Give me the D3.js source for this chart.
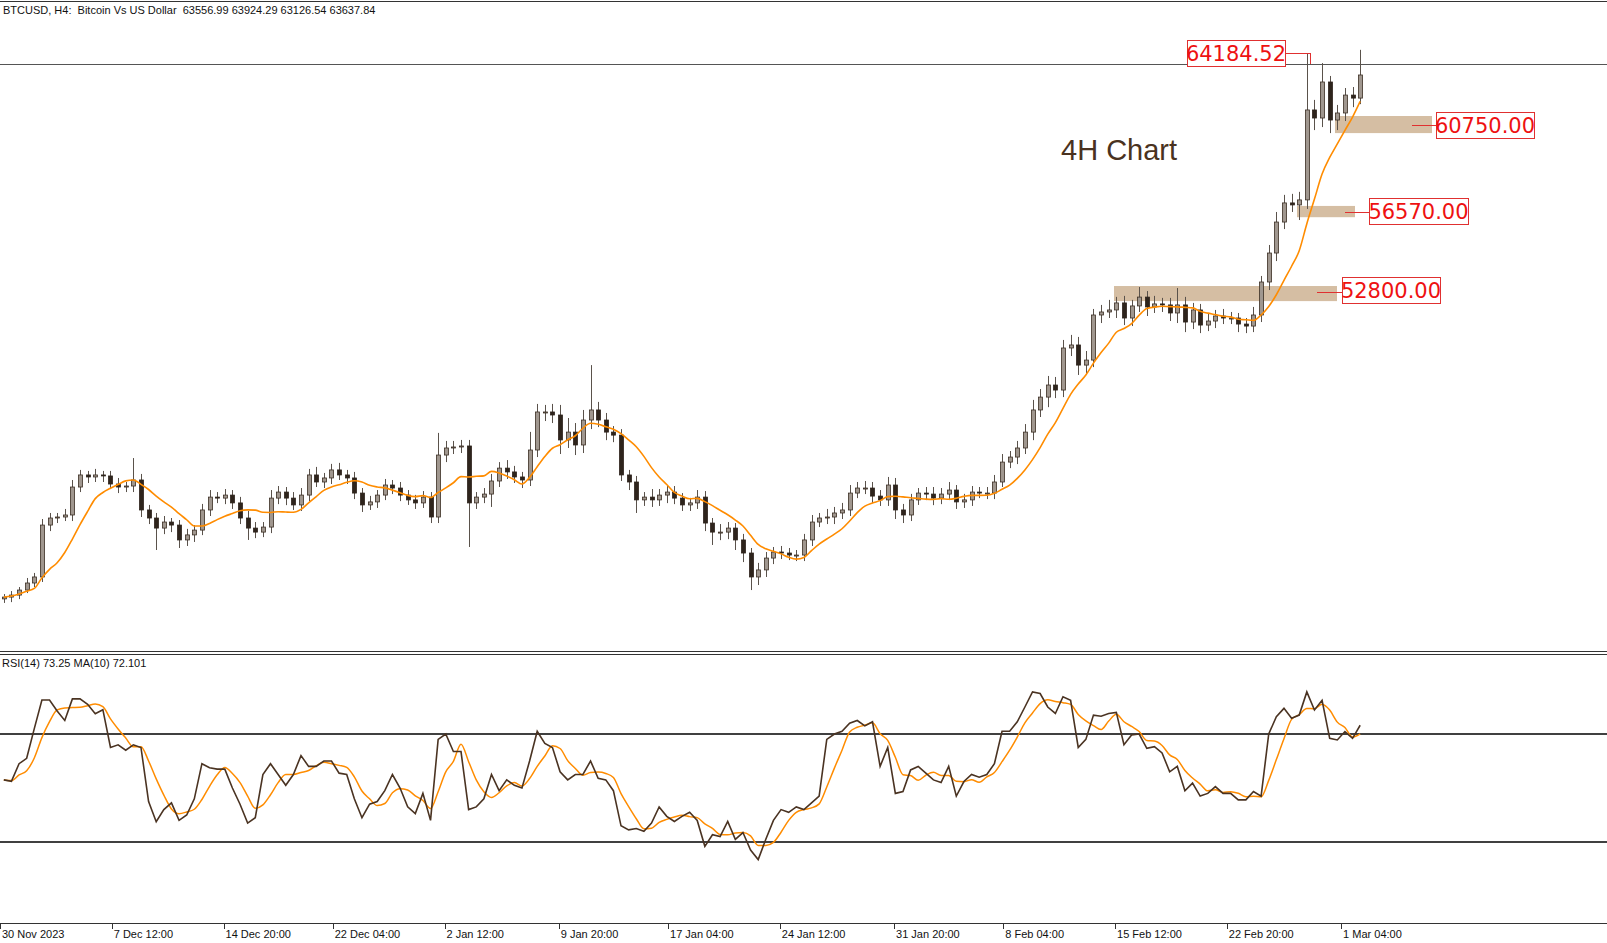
<!DOCTYPE html>
<html>
<head>
<meta charset="utf-8">
<script src="https://cdn.jsdelivr.net/npm/d3@7"></script>
<style>
  html, body { margin: 0; padding: 0; background: #fff; }
  svg { display: block; }
</style>
</head>
<body>
<div id="vis"></div>
<script>
// 12h bars (open = previous close)
var firstOpen = 37600;
var closes = [
  37690,37790,38040,38390,38690,41270,41620,41670,41770,43160,
  43760,43660,43760,43710,43310,43160,43210,43510,42020,41620,
  41120,41420,41270,40530,40780,41020,42020,42660,42610,42760,
  42370,41620,41120,40920,41170,42610,42910,42610,42270,42760,
  43760,43410,43610,44010,43760,43610,42860,42270,42420,42760,
  43260,43110,42760,42520,42370,42660,41670,44750,45100,45150,
  45200,42370,42660,42810,43460,44100,43910,43660,43510,45000,
  46890,46890,46740,45500,45890,45250,46490,46990,46490,45890,
  45740,43760,43410,42520,42660,42520,42760,42910,42610,42270,
  42370,42660,41370,40920,40920,41120,40530,39880,38690,39040,
  39630,39930,39880,39780,39780,
  40530,41420,41620,41670,41870,42020,42860,43110,43110,42710,
  42520,43260,42020,41770,42520,42860,42810,42610,42810,43010,
  42420,42520,42910,42860,42860,43410,44400,44650,45100,45890,
  46990,47630,48230,47980,50070,50220,49220,49470,51710,51860,
  51960,52310,51560,52160,52600,52110,52260,52210,51810,52210,
  51360,51960,51210,51410,51660,51560,51560,51260,51160,51710,
  53350,54790,56330,57280,57180,57430,61900,61500,63290,61400,
  61750,62640,62490,63637.84
];
var wickUp = [
  150,200,150,250,200,300,250,200,300,350,
  250,200,300,200,250,300,200,1090,300,250,
  250,300,200,250,300,250,300,350,250,300,
  250,300,350,300,250,400,300,250,300,350,
  300,400,250,300,350,250,300,250,300,250,
  300,250,300,250,250,300,250,1100,350,300,
  300,300,250,300,350,300,400,300,250,900,
  400,350,400,500,700,450,500,2230,400,350,
  300,300,250,300,250,400,300,350,300,250,
  250,350,300,250,400,300,250,300,250,350,
  300,250,300,250,250,
  300,350,250,400,300,350,400,300,350,300,
  300,400,350,300,300,250,300,350,300,400,
  250,300,300,250,300,350,400,300,350,400,
  500,400,450,400,400,500,400,450,300,350,
  500,300,350,300,500,300,400,300,350,840,
  400,350,300,400,300,350,300,250,300,400,
  300,400,500,400,450,400,2830,500,940,300,
  400,350,400,1250
];
var wickDn = [
  200,250,200,150,200,250,300,250,200,300,
  250,300,250,300,250,300,250,300,350,300,
  1090,300,350,400,300,350,250,300,250,300,
  300,300,590,300,250,300,300,350,250,300,
  300,250,300,300,250,300,300,350,250,300,
  250,300,300,250,300,250,300,300,350,300,
  300,2190,300,300,640,300,350,300,400,300,
  350,450,400,700,400,500,400,450,350,400,
  350,300,400,650,300,350,300,400,300,300,
  300,300,400,640,400,350,500,450,650,400,
  350,300,300,250,300,
  300,300,250,300,350,300,300,250,300,350,
  300,300,450,400,300,250,300,350,300,300,
  350,300,300,250,300,300,250,300,350,300,
  400,350,500,400,350,400,490,400,350,400,
  300,400,350,400,300,450,300,350,400,500,
  500,350,400,300,350,300,300,400,350,300,
  350,400,400,350,350,750,450,600,450,650,
  500,400,450,300
];
var rsi = [
  53,52.5,59,61,72,82.6,82.6,78.5,75,83,
  83,81,77.5,79,65,66,64,66,65,45,
  37.5,42,44.5,38,40,46,59,57.5,57,57,
  50,44,37,39,55,59,55,51,55,62,
  58,58,60,60,55.5,55,46,39,44,45,
  49,55,50,43,40.5,48,38,68,70,63.5,
  63.5,42,43,46,55,49,53,51,50,60,
  71,66.5,65,56,53,55,55,60,53.6,53,
  49,36,34.5,35,34,37,43,39.5,37.6,39.5,
  41,38,28.4,32.7,32,37.6,31,33.5,27,23.5,
  31,38,42,41,43,42,44.5,47,68,70,
  71,74,75,73,74.5,58,65,48,48.7,56.7,
  58,55.5,53,52,58,47,52.4,55,54,55,
  59,71,71,74.5,80,85.6,85,80,77.6,83.8,
  82.5,65,68,77,76.6,77.6,78,66,69.6,70,
  64.7,65.3,63,56,58,49,51.8,47,48,50.5,
  48,48,45.6,45.6,48.7,47,70,76.4,79.5,75.8,
  77,85.6,78.9,82.5,68.4,67.8,70.9,68.4,73.25
];
var tickUnits = [0, 44, 88, 131, 175, 220, 263, 307, 352, 395, 439, 483, 528];
var tickLabels = ["30 Nov 2023", "7 Dec 12:00", "14 Dec 20:00", "22 Dec 04:00", "2 Jan 12:00",
  "9 Jan 20:00", "17 Jan 04:00", "24 Jan 12:00", "31 Jan 20:00", "8 Feb 04:00",
  "15 Feb 12:00", "22 Feb 20:00", "1 Mar 04:00"];
var levelPrice = 64184.52;
var zones = [
  { label: "60750.00", lo: 60750, hi: 61600 },
  { label: "56570.00", lo: 56570, hi: 57130 },
  { label: "52800.00", lo: 52400, hi: 53150 }
];
var maPeriod = 8, rsiMaPeriod = 4;

var W = 1607, H = 943;
var svg = d3.select("#vis").append("svg").attr("width", W).attr("height", H);
var font = "'Liberation Sans', Arial, sans-serif";

var bars = closes.map(function(c, i) {
  var o = i === 0 ? firstOpen : closes[i - 1];
  return { i: i, o: o, c: c, h: Math.max(o, c) + wickUp[i], l: Math.min(o, c) - wickDn[i] };
});

// x in 4H-bar units, each 12h bar spans 3 units
var x = d3.scaleLinear().domain([0, 1]).range([0, 2.54]);
var cx = function(i) { return x(i * 3 + 1.5); };
var y = d3.scaleLinear().domain([34961, 67365]).range([652, 0]);
var yr = d3.scaleLinear().domain([0, 100]).range([923, 653]);

// frame
svg.append("line").attr("x1", 0).attr("x2", W).attr("y1", 1.5).attr("y2", 1.5).attr("stroke", "#333");
svg.append("line").attr("x1", 0).attr("x2", W).attr("y1", 651.5).attr("y2", 651.5).attr("stroke", "#333");
svg.append("line").attr("x1", 0).attr("x2", W).attr("y1", 654.5).attr("y2", 654.5).attr("stroke", "#333");
svg.append("line").attr("x1", 0).attr("x2", W).attr("y1", 923.5).attr("y2", 923.5).attr("stroke", "#333");

// zones
var zx = [[1335, 1432], [1297, 1355], [1114, 1337]];
svg.selectAll("rect.zone").data(zones).enter().append("rect")
  .attr("x", function(d, k) { return zx[k][0]; })
  .attr("width", function(d, k) { return zx[k][1] - zx[k][0]; })
  .attr("y", function(d) { return y(d.hi); })
  .attr("height", function(d) { return y(d.lo) - y(d.hi); })
  .attr("fill", "#d5bea3");

// level line
svg.append("line").attr("x1", 0).attr("x2", W)
  .attr("y1", Math.round(y(levelPrice)) + 0.5).attr("y2", Math.round(y(levelPrice)) + 0.5)
  .attr("stroke", "#555");

// candles
var g = svg.append("g");
g.selectAll("line.wick").data(bars).enter().append("line")
  .attr("x1", function(d) { return Math.round(cx(d.i)) + 0.5; })
  .attr("x2", function(d) { return Math.round(cx(d.i)) + 0.5; })
  .attr("y1", function(d) { return y(d.h); })
  .attr("y2", function(d) { return y(d.l); })
  .attr("stroke", "#5a524b");
g.selectAll("rect.body").data(bars).enter().append("rect")
  .attr("x", function(d) { return Math.round(cx(d.i)) - 1.5; })
  .attr("width", 4)
  .attr("y", function(d) { return y(Math.max(d.o, d.c)); })
  .attr("height", function(d) { return Math.max(1, Math.abs(y(d.o) - y(d.c))); })
  .attr("fill", function(d) { return d.c >= d.o ? "#a0978f" : "#2e241c"; })
  .attr("stroke", function(d) { return d.c >= d.o ? "#3b2e24" : "#2e241c"; })
  .attr("stroke-width", 0.8);

function sma(arr, n) {
  return arr.map(function(v, i) {
    var s = arr.slice(Math.max(0, i - n + 1), i + 1);
    return d3.mean(s);
  });
}
var ma = sma(closes, maPeriod);
svg.append("path").datum(ma)
  .attr("d", d3.line().x(function(d, i) { return cx(i); }).y(function(d) { return y(d); }).curve(d3.curveMonotoneX))
  .attr("fill", "none").attr("stroke", "#ff8c00").attr("stroke-width", 1.6);

// annotations
svg.append("line").attr("x1", 1285).attr("x2", 1310).attr("y1", 53.5).attr("y2", 53.5).attr("stroke", "#e03030");
svg.append("line").attr("x1", 1310.5).attr("x2", 1310.5).attr("y1", 53).attr("y2", 64).attr("stroke", "#e03030");
var labels = [
  { t: levelPrice.toFixed(2), x: 1187, y: 40, w: 98, lx: null },
  { t: zones[0].label, x: 1436, y: 112, w: 98, lx: [1412, 125] },
  { t: zones[1].label, x: 1369, y: 198, w: 99, lx: [1345, 212] },
  { t: zones[2].label, x: 1342, y: 277, w: 98, lx: [1317, 292] }
];
labels.forEach(function(d) {
  if (d.lx) svg.append("line").attr("x1", d.lx[0]).attr("x2", d.x).attr("y1", d.lx[1] + 0.5).attr("y2", d.lx[1] + 0.5).attr("stroke", "#e03030");
  svg.append("rect").attr("x", d.x + 0.5).attr("y", d.y + 0.5).attr("width", d.w).attr("height", 26)
    .attr("fill", "#fff").attr("stroke", "#e03030");
  svg.append("text").attr("x", d.x + d.w / 2).attr("y", d.y + 21).attr("text-anchor", "middle")
    .attr("font-family", "'DejaVu Sans', sans-serif").attr("font-size", 21).attr("fill", "#ee1111").text(d.t);
});
svg.append("text").attr("x", 1061).attr("y", 160).attr("font-family", font)
  .attr("font-size", 29).attr("fill", "#4a3220").text("4H Chart");

// header
svg.append("text").attr("x", 3).attr("y", 14).attr("font-family", font).attr("font-size", 11).attr("fill", "#111")
  .attr("xml:space", "preserve").text("BTCUSD, H4:  Bitcoin Vs US Dollar  63556.99 63924.29 63126.54 63637.84");

// RSI panel
[70, 30].forEach(function(v) {
  svg.append("line").attr("x1", 0).attr("x2", W).attr("y1", yr(v)).attr("y2", yr(v)).attr("stroke", "#000").attr("stroke-width", 1.6);
});
svg.append("path").datum(sma(rsi, rsiMaPeriod))
  .attr("d", d3.line().x(function(d, i) { return cx(i); }).y(function(d) { return yr(d); }).curve(d3.curveMonotoneX))
  .attr("fill", "none").attr("stroke", "#ff8c00").attr("stroke-width", 1.5);
svg.append("path").datum(rsi).attr("d", d3.line().x(function(d, i) { return cx(i); }).y(function(d) { return yr(d); }))
  .attr("fill", "none").attr("stroke", "#4a3322").attr("stroke-width", 1.6);
svg.append("text").attr("x", 2).attr("y", 667).attr("font-family", font).attr("font-size", 11).attr("fill", "#111")
  .text("RSI(14) " + rsi[rsi.length - 1].toFixed(2) + " MA(10) 72.101");

// time axis
var ax = svg.append("g");
ax.selectAll("line").data(tickUnits).enter().append("line")
  .attr("x1", function(d) { return Math.round(x(d)) + 0.5; }).attr("x2", function(d) { return Math.round(x(d)) + 0.5; })
  .attr("y1", 924).attr("y2", 929).attr("stroke", "#333");
ax.selectAll("text").data(tickUnits).enter().append("text")
  .attr("x", function(d) { return x(d) + 2; }).attr("y", 938)
  .attr("font-family", font).attr("font-size", 11).attr("fill", "#111")
  .text(function(d, k) { return tickLabels[k]; });
</script>
</body>
</html>
